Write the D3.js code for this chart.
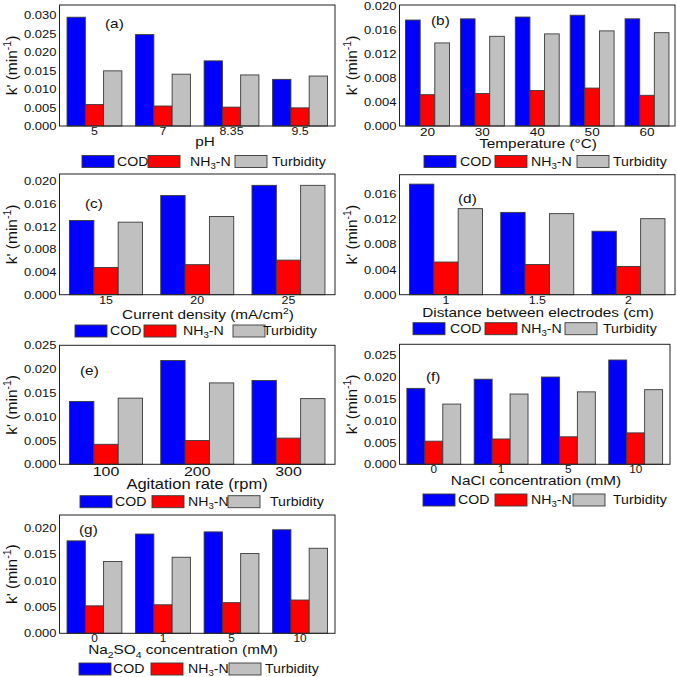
<!DOCTYPE html>
<html>
<head>
<meta charset="utf-8">
<script src="https://cdn.jsdelivr.net/npm/d3@7"></script>
<style>
  body { margin: 0; background: #fff; }
  text { font-family: "Liberation Sans", Arial, sans-serif; fill: #111; }
</style>
</head>
<body>
<div id="chart"></div>
<script>
var width = 677, height = 677;
var SX = 1.18; // source figure looks stretched sideways

// series
var seriesNames = ["COD", "NH3-N", "Turbidity"];
var seriesColors = ["#0000ff", "#ff0000", "#c0c0c0"];

// (a) pH
var phLevels = ["5", "7", "8.35", "9.5"];
var phCOD = [0.0294, 0.0247, 0.0176, 0.0126];
var phNH3 = [0.0058, 0.0054, 0.0051, 0.0049];
var phTurb = [0.0149, 0.0140, 0.0138, 0.0135];
var phTicks = [0, 0.005, 0.010, 0.015, 0.020, 0.025, 0.030];

// (b) temperature
var tempLevels = ["20", "30", "40", "50", "60"];
var tempCOD = [0.0176, 0.0178, 0.0181, 0.0184, 0.0178];
var tempNH3 = [0.0052, 0.0054, 0.0059, 0.0063, 0.0051];
var tempTurb = [0.0138, 0.0149, 0.0153, 0.0158, 0.0155];
var tempTicks = [0, 0.004, 0.008, 0.012, 0.016, 0.020];

// (c) current density
var cdLevels = ["15", "20", "25"];
var cdCOD = [0.0131, 0.0175, 0.0193];
var cdNH3 = [0.0048, 0.0053, 0.0061];
var cdTurb = [0.0128, 0.0138, 0.0193];
var cdTicks = [0, 0.004, 0.008, 0.012, 0.016, 0.020];

// (d) electrode distance
var distLevels = ["1", "1.5", "2"];
var distCOD = [0.0176, 0.0131, 0.0101];
var distNH3 = [0.0052, 0.0048, 0.0045];
var distTurb = [0.0137, 0.0129, 0.0121];
var distTicks = [0, 0.004, 0.008, 0.012, 0.016];

// (e) agitation rate
var agLevels = ["100", "200", "300"];
var agCOD = [0.0132, 0.0218, 0.0176];
var agNH3 = [0.0042, 0.0050, 0.0055];
var agTurb = [0.0139, 0.0171, 0.0138];
var agTicks = [0, 0.005, 0.010, 0.015, 0.020, 0.025];

// (f) NaCl
var naclLevels = ["0", "1", "5", "10"];
var naclCOD = [0.0174, 0.0195, 0.0200, 0.0239];
var naclNH3 = [0.0053, 0.0058, 0.0063, 0.0072];
var naclTurb = [0.0138, 0.0161, 0.0166, 0.0171];
var naclTicks = [0, 0.005, 0.010, 0.015, 0.020, 0.025];

// (g) Na2SO4
var sulfLevels = ["0", "1", "5", "10"];
var sulfCOD = [0.0175, 0.0188, 0.0192, 0.0196];
var sulfNH3 = [0.0052, 0.0054, 0.0058, 0.0063];
var sulfTurb = [0.0136, 0.0144, 0.0151, 0.0161];
var sulfTicks = [0, 0.005, 0.010, 0.015, 0.020];

// layout for each panel
var panels = [
  {tag: "(a)", cats: phLevels, vals: [phCOD, phNH3, phTurb], ticks: phTicks, ymax: 0.0327,
   box: [59.5, 5, 335, 126], title: [["pH"]], tx: 205, tdy: 19.7, xfs: 10.5,
   tagPos: [105, 28], leg: {y: 161.5, rx: [82, 148, 235], tx: [117, 190, 272]}},
  {tag: "(b)", cats: tempLevels, vals: [tempCOD, tempNH3, tempTurb], ticks: tempTicks, ymax: 0.0201,
   box: [399.5, 5, 675, 126], title: [["Temperature (°C)"]], tx: 538, tdy: 21.7, xfs: 11.5,
   tagPos: [431, 25], leg: {y: 161.5, rx: [424, 495, 577], tx: [460, 531, 613]}},
  {tag: "(c)", cats: cdLevels, vals: [cdCOD, cdNH3, cdTurb], ticks: cdTicks, ymax: 0.0213,
   box: [59.5, 174, 335, 294.7], title: [["Current density (mA/cm"], ["2", "sup"], [")"]], tx: 208, tdy: 24, xfs: 10.5,
   tagPos: [85, 207.5], leg: {y: 331, rx: [75, 144, 233], tx: [110, 183, 263]}},
  {tag: "(d)", cats: distLevels, vals: [distCOD, distNH3, distTurb], ticks: distTicks, ymax: 0.0191,
   box: [399.5, 174.7, 675, 294.7], title: [["Distance between electrodes (cm)"]], tx: 538, tdy: 21.8, xfs: 10.5,
   tagPos: [458, 203], leg: {y: 328.7, rx: [413, 485, 565], tx: [450, 521, 603]}},
  {tag: "(e)", cats: agLevels, vals: [agCOD, agNH3, agTurb], ticks: agTicks, ymax: 0.025,
   box: [59.5, 345.3, 335, 464.3], title: [["Agitation rate (rpm)"]], tx: 197, tdy: 25, xfs: 13.5, tfs: 14,
   tagPos: [80, 374.5], leg: {y: 501.7, rx: [80, 152, 228], tx: [115, 188, 270]}},
  {tag: "(f)", cats: naclLevels, vals: [naclCOD, naclNH3, naclTurb], ticks: naclTicks, ymax: 0.0275,
   box: [399.5, 344.3, 670, 464.3], title: [["NaCl concentration (mM)"]], tx: 536, tdy: 21, xfs: 10,
   tagPos: [426, 380.5], leg: {y: 500, rx: [423, 495, 573], tx: [458, 531, 613]}},
  {tag: "(g)", cats: sulfLevels, vals: [sulfCOD, sulfNH3, sulfTurb], ticks: sulfTicks, ymax: 0.0224,
   box: [59.5, 515, 335, 633.3], title: [["Na"], ["2", "sub"], ["SO"], ["4", "sub"], [" concentration (mM)"]], tx: 183, tdy: 21, xfs: 10,
   tagPos: [79, 533.5], leg: {y: 669, rx: [79, 151, 229], tx: [113, 188, 265]}}
];

var legendLabels = [[["COD"]], [["NH"], ["3", "sub"], ["-N"]], [["Turbidity"]]];
var yTitle = [["k' (min"], ["-1", "sup"], [")"]];

var svg = d3.select("#chart").append("svg")
    .attr("width", width)
    .attr("height", height);

// writes text segments with sub/superscripts as tspans;
// the shift is undone on the segment that follows
function rich(text, parts, size) {
  var back = 0;
  parts.forEach(function(p) {
    var ts = text.append("tspan").text(p[0]);
    if (p[1] == "sup") {
      ts.attr("font-size", size * 0.68).attr("dy", back - size * 0.38);
      back = size * 0.38;
    } else if (p[1] == "sub") {
      ts.attr("font-size", size * 0.68).attr("dy", back + size * 0.25);
      back = -size * 0.25;
    } else {
      if (back) ts.attr("dy", back);
      back = 0;
    }
  });
  return text;
}

function stretch(sel) {
  sel.each(function() {
    var t = d3.select(this);
    var x = +t.attr("x") || 0, y = +t.attr("y") || 0;
    t.attr("x", 0).attr("y", 0)
     .attr("transform", "translate(" + x + "," + y + ") scale(" + SX + ",1)");
  });
}

var fmt = d3.format(".3f");

panels.forEach(function(p) {
  var L = p.box[0], T = p.box[1], R = p.box[2], B = p.box[3];
  var g = svg.append("g");

  var x0 = d3.scaleBand().domain(p.cats).range([L, R])
      .paddingInner(0.2).paddingOuter(0.11);
  var x1 = d3.scaleBand().domain(d3.range(seriesNames.length))
      .range([0, x0.bandwidth()]);
  var y = d3.scaleLinear().domain([0, p.ymax]).range([B, T]);

  // bars
  var groups = g.selectAll("g.grp")
      .data(p.cats)
    .enter().append("g")
      .attr("class", "grp")
      .attr("transform", function(d) { return "translate(" + x0(d) + ",0)"; });
  groups.selectAll("rect")
      .data(function(d, i) { return p.vals.map(function(s, k) { return {k: k, v: s[i]}; }); })
    .enter().append("rect")
      .attr("x", function(d) { return x1(d.k); })
      .attr("width", x1.bandwidth())
      .attr("y", function(d) { return y(d.v); })
      .attr("height", function(d) { return B - y(d.v); })
      .attr("fill", function(d) { return seriesColors[d.k]; })
      .attr("stroke", "#3a3a3a")
      .attr("stroke-width", 0.9);

  // axes
  var ya = g.append("g")
      .attr("transform", "translate(" + L + ",0)")
      .call(d3.axisLeft(y).tickValues(p.ticks).tickFormat(fmt).tickSize(0).tickPadding(3));
  ya.select(".domain").remove();
  ya.selectAll("text").attr("font-size", 11).attr("fill", "#111");
  stretch(ya.selectAll("text"));

  var xa = g.append("g")
      .attr("transform", "translate(0," + B + ")")
      .call(d3.axisBottom(x0).tickSize(0).tickPadding(2));
  xa.select(".domain").remove();
  xa.selectAll("text").attr("font-size", p.xfs).attr("fill", "#111");
  stretch(xa.selectAll("text"));

  // frame
  g.append("rect")
      .attr("x", L).attr("y", T)
      .attr("width", R - L).attr("height", B - T)
      .attr("fill", "none")
      .attr("stroke", "#222")
      .attr("stroke-width", 1);

  // x title
  var tfs = p.tfs || 13;
  var xt = g.append("text")
      .attr("text-anchor", "middle")
      .attr("font-size", tfs)
      .attr("transform", "translate(" + p.tx + "," + (B + p.tdy) + ") scale(" + SX + ",1)");
  rich(xt, p.title, tfs);

  // y title
  var yt = g.append("text")
      .attr("text-anchor", "middle")
      .attr("font-size", 15.5)
      .attr("transform", "translate(" + (L < 300 ? 16.5 : 356.5) + "," + ((T + B) / 2) + ") rotate(-90)");
  rich(yt, yTitle, 15.5);

  // panel tag
  g.append("text")
      .attr("font-size", 13)
      .attr("transform", "translate(" + p.tagPos[0] + "," + p.tagPos[1] + ") scale(" + SX + ",1)")
      .text(p.tag);

  // legend
  seriesNames.forEach(function(s, k) {
    g.append("rect")
        .attr("x", p.leg.rx[k]).attr("y", p.leg.y - 6)
        .attr("width", 32).attr("height", 12)
        .attr("fill", seriesColors[k])
        .attr("stroke", "#3a3a3a")
        .attr("stroke-width", 0.9);
    var lt = g.append("text")
        .attr("font-size", 12)
        .attr("transform", "translate(" + p.leg.tx[k] + "," + (p.leg.y + 4.3) + ") scale(" + SX + ",1)");
    rich(lt, legendLabels[k], 12);
  });
});
</script>
</body>
</html>
